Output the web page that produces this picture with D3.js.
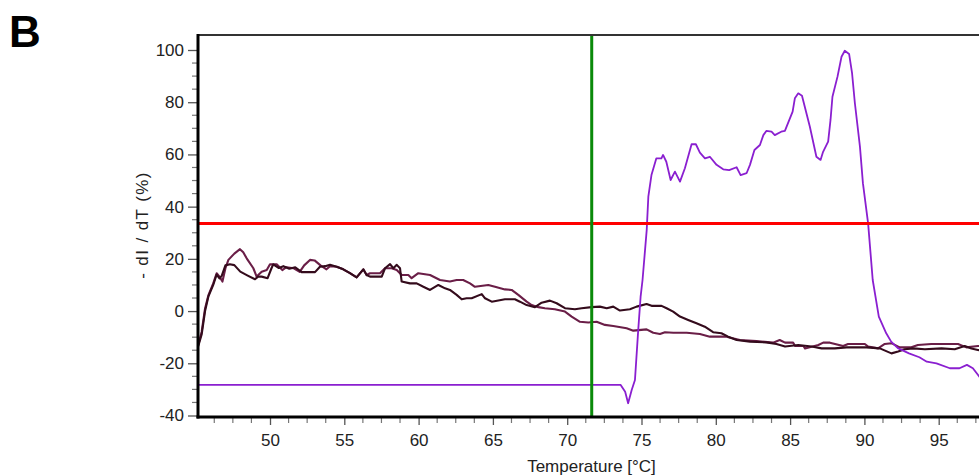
<!DOCTYPE html>
<html>
<head>
<meta charset="utf-8">
<script src="https://cdn.jsdelivr.net/npm/d3@7"></script>
<style>
  body { margin: 0; background: #fff; }
  svg { display: block; font-family: Arial, "Liberation Sans", sans-serif; }
</style>
</head>
<body>
<div id="chart"></div>
<script>
// melt curve values (temperature in °C, -dI/dT in %)
const tempA = [45.17,45.4,45.63,45.85,46.18,46.41,46.6,46.8,47.0,47.2,47.6,47.98,48.2,48.43,48.88,49.1,49.44,49.78,50.0,50.45,50.83,51.1,51.6,52.0,52.3,52.69,53.0,53.4,53.8,54.04,54.49,54.93,55.38,55.83,56.28,56.5,56.73,57.4,57.74,58.19,58.53,58.86,59.31,59.53,59.98,60.77,61.44,62.11,62.56,63.0,63.46,63.79,64.69,65.14,65.81,66.26,66.71,67.27,67.61,68.06,68.5,69.17,69.85,70.3,70.86,71.42,71.98,72.54,73.1,74.0,74.45,75.34,75.79,76.24,76.58,77.14,78.04,78.93,79.6,80.72,81.62,82.74,83.86,84.3,84.66,85.2,85.34,85.9,86.0,86.9,87.23,87.68,88.57,88.9,90.03,90.25,90.92,91.37,91.82,92.37,93.16,93.6,94.5,96.3,96.86,97.64,98.2];
const valA  = [-13,-8,1,6,10.6,14.5,13.2,11.3,16.4,19.6,22,23.7,22.5,20.2,16.4,13.2,15.1,15.7,17.9,17.9,15.7,16.8,16.4,15.0,17.5,19.6,19.4,17.5,16,17.2,17.0,16.0,14.5,12.9,16.0,13.8,14.5,14.5,16.4,16.4,15.7,13.8,13.8,12.6,14.5,13.8,11.9,11.3,11.9,11.9,10.6,9.3,10.0,9.3,8.3,8.1,6.2,3.6,2.3,1.5,1.1,0.7,-0.2,-2.1,-4.1,-4.4,-4.1,-5.3,-5.7,-6.6,-7.5,-7.0,-8.3,-8.8,-8.1,-8.3,-8.3,-8.8,-9.8,-9.8,-11.1,-11.5,-12.1,-11.1,-12.1,-12.1,-13.4,-13.4,-14.3,-13.0,-12.1,-12.1,-13.4,-12.6,-12.6,-13.6,-14.3,-12.6,-12.3,-13.9,-13.9,-13.0,-12.6,-12.6,-13.9,-13.4,-13.4];

const tempB = [45.17,45.4,45.63,45.85,46.18,46.41,46.6,46.75,47.0,47.3,47.6,48.0,48.5,48.99,49.2,49.44,49.84,50.1,50.22,50.6,50.9,51.3,51.7,52.13,53.03,53.36,53.7,54.04,54.49,54.93,55.38,55.83,56.28,56.5,56.73,57.52,57.74,58.08,58.3,58.53,58.75,58.86,59.42,59.87,60.32,60.77,61.33,61.78,62.11,62.56,62.9,63.23,63.57,64.25,64.47,64.92,65.81,66.48,66.82,67.27,67.83,68.28,68.84,69.29,69.85,70.52,70.97,71.64,72.2,72.66,73.1,73.55,74.22,74.67,75.34,75.68,76.35,76.69,77.13,77.59,78.14,78.7,79.26,79.82,80.38,80.83,81.4,82.3,83.4,84.08,84.66,85.55,86.45,87.12,88.01,88.8,90.14,91.04,91.82,92.27,92.72,93.28,94.07,95.19,96.08,96.75,97.2,97.64,98.2];
const valB  = [-13.5,-9,0,5.5,10,14,12.5,13.5,17.5,17.9,17.6,15.1,13.6,12.2,13.2,13.2,12.6,16.4,17.9,16.5,17.2,16.2,16.8,14.9,14.9,17.0,17.2,17.7,17.0,16.0,14.5,12.9,16.0,13.8,13.2,13.2,16.4,18.0,16.4,17.7,16.4,11.3,10.6,10.6,9.3,8.1,10.0,8.7,8.1,6.2,4.5,4.9,4.9,6.5,4.9,3.6,4.5,4.5,3.6,2.3,1.5,3.2,4.0,3.0,1.1,0.7,1.1,1.5,1.7,1.1,1.7,0.2,0.7,1.7,2.7,2.0,2.0,1.1,-0.2,-2.1,-3.4,-4.7,-6.0,-8.1,-8.5,-9.8,-11.1,-11.7,-12.0,-12.6,-13.6,-13.0,-13.6,-14.3,-14.3,-13.9,-13.9,-14.3,-16.2,-15.5,-14.6,-14.3,-14.6,-14.3,-14.6,-13.4,-14.3,-14.9,-15.5];

const tempC = [45.0,73.6,73.9,74.1,74.34,74.56,74.78,74.94,75.07,75.35,75.46,75.67,76.0,76.34,76.45,76.67,76.96,77.25,77.59,77.92,78.37,78.66,78.93,79.27,79.6,80.05,80.5,80.9,81.4,81.67,82.07,82.3,82.6,82.97,83.2,83.4,83.75,83.97,84.4,84.65,85.17,85.32,85.55,85.8,86.33,86.77,87.05,87.22,87.56,87.72,87.85,88.19,88.46,88.68,88.97,89.17,89.36,89.7,89.9,90.25,90.56,90.97,91.47,91.8,92.25,93.0,93.7,94.2,94.85,95.75,96.4,96.9,97.3,97.65,98.1];
const valC  = [-28.3,-28.3,-30.9,-35.3,-30.2,-26.4,-7.2,5.5,11.9,31,43.8,52.1,58.5,58.5,59.8,57.2,50.2,53.4,49.6,54.7,63.9,63.9,60.7,58.5,59.1,56,54.3,54,55.1,52.1,52.8,56,61.7,63.6,67.4,69,68.7,67.4,68.7,69,76.4,81.5,83.4,82.5,70.6,59.1,57.9,61,64.9,73.2,82.1,89.8,97.4,99.7,98.5,91.1,79.6,63,49,33.6,11.9,-2.1,-8.5,-11.7,-14.2,-16.2,-17.7,-19.4,-20,-21.9,-21.9,-20.6,-21.9,-24.5,-28];

const thresholdValue = 33.5;   // red horizontal line
const cursorTemp = 71.65;      // green vertical line
const yTicks = [-40, -20, 0, 20, 40, 60, 80, 100];
const xTicks = [50, 55, 60, 65, 70, 75, 80, 85, 90, 95];

const W = 979, H = 476;
const plotLeft = 198, plotRight = 979, plotTop = 36, plotBottom = 417;

const svg = d3.select("#chart").append("svg")
  .attr("width", W).attr("height", H);

const x = d3.scaleLinear().domain([45, 100]).range([195.7, 1013]);
const y = d3.scaleLinear().domain([-40, 100]).range([415.5, 50]);

svg.append("defs").append("clipPath").attr("id", "plot")
  .append("rect")
  .attr("x", plotLeft).attr("y", plotTop)
  .attr("width", plotRight - plotLeft).attr("height", plotBottom - plotTop);

// panel letter
svg.append("text")
  .attr("x", 9).attr("y", 47)
  .attr("font-size", 44).attr("font-weight", "bold")
  .text("B");

// minor ticks
const yMinor = d3.range(-40, 101, 5).filter(v => v % 20 !== 0);
const xMinor = d3.range(46.25, 98, 1.25).filter(v => Math.abs(v % 5) > 0.01);

const yAxis = svg.append("g")
  .attr("transform", `translate(${plotLeft},0)`)
  .call(d3.axisLeft(y).tickValues(yTicks).tickSize(10).tickPadding(4).tickFormat(d => d));
yAxis.select(".domain").remove();
yAxis.selectAll(".tick line").attr("stroke", "#555").attr("stroke-width", 1.3);
yAxis.selectAll(".tick text").attr("font-size", 17).attr("fill", "#222")
  .attr("font-family", "Arial, 'Liberation Sans', sans-serif");
yAxis.selectAll(".minor").data(yMinor).enter().append("line")
  .attr("x1", -6).attr("x2", 0)
  .attr("y1", d => y(d)).attr("y2", d => y(d))
  .attr("stroke", "#777").attr("stroke-width", 1.2);

const xAxis = svg.append("g")
  .attr("transform", `translate(0,${plotBottom})`)
  .call(d3.axisBottom(x).tickValues(xTicks).tickSize(8).tickPadding(9).tickFormat(d => d));
xAxis.select(".domain").remove();
xAxis.selectAll(".tick line").attr("stroke", "#555").attr("stroke-width", 1.3);
xAxis.selectAll(".tick text").attr("font-size", 17).attr("fill", "#222")
  .attr("font-family", "Arial, 'Liberation Sans', sans-serif");
xAxis.selectAll(".minor").data(xMinor).enter().append("line")
  .attr("x1", d => x(d)).attr("x2", d => x(d))
  .attr("y1", 0).attr("y2", 6)
  .attr("stroke", "#777").attr("stroke-width", 1.2);

// axis titles
svg.append("text")
  .attr("transform", `translate(148,225) rotate(-90)`)
  .attr("text-anchor", "middle")
  .attr("font-size", 17).attr("fill", "#222")
  .attr("letter-spacing", 1.4)
  .text("- dI / dT (%)");

svg.append("text")
  .attr("x", 591.5).attr("y", 471.5)
  .attr("text-anchor", "middle")
  .attr("font-size", 17).attr("fill", "#222")
  .text("Temperature [°C]");

// curves
const plot = svg.append("g").attr("clip-path", "url(#plot)");
const line = d3.line().x(d => x(d[0])).y(d => y(d[1]));

const series = [
  { t: tempA, v: valA, colour: "#6a1e47", width: 2.1 },
  { t: tempB, v: valB, colour: "#340b1c", width: 2.1 },
  { t: tempC, v: valC, colour: "#8a1fd0", width: 1.8 }
];

series.forEach(s => {
  plot.append("path")
    .datum(s.t.map((t, i) => [t, s.v[i]]))
    .attr("d", line)
    .attr("fill", "none")
    .attr("stroke", s.colour)
    .attr("stroke-width", s.width)
    .attr("stroke-linejoin", "round");
});

// threshold + cursor lines
plot.append("line")
  .attr("x1", plotLeft).attr("x2", plotRight)
  .attr("y1", y(thresholdValue)).attr("y2", y(thresholdValue))
  .attr("stroke", "#ff0000").attr("stroke-width", 3);

plot.append("line")
  .attr("x1", x(cursorTemp)).attr("x2", x(cursorTemp))
  .attr("y1", plotTop).attr("y2", plotBottom)
  .attr("stroke", "#0a8a0a").attr("stroke-width", 3);

// frame
svg.append("line")
  .attr("x1", plotLeft).attr("x2", plotRight)
  .attr("y1", plotTop - 1).attr("y2", plotTop - 1)
  .attr("stroke", "#333").attr("stroke-width", 2);
svg.append("line")
  .attr("x1", plotLeft).attr("x2", plotLeft)
  .attr("y1", plotTop - 2).attr("y2", plotBottom + 1.5)
  .attr("stroke", "#000").attr("stroke-width", 3);
svg.append("line")
  .attr("x1", plotLeft - 1.5).attr("x2", plotRight)
  .attr("y1", plotBottom).attr("y2", plotBottom)
  .attr("stroke", "#000").attr("stroke-width", 3);
</script>
</body>
</html>
